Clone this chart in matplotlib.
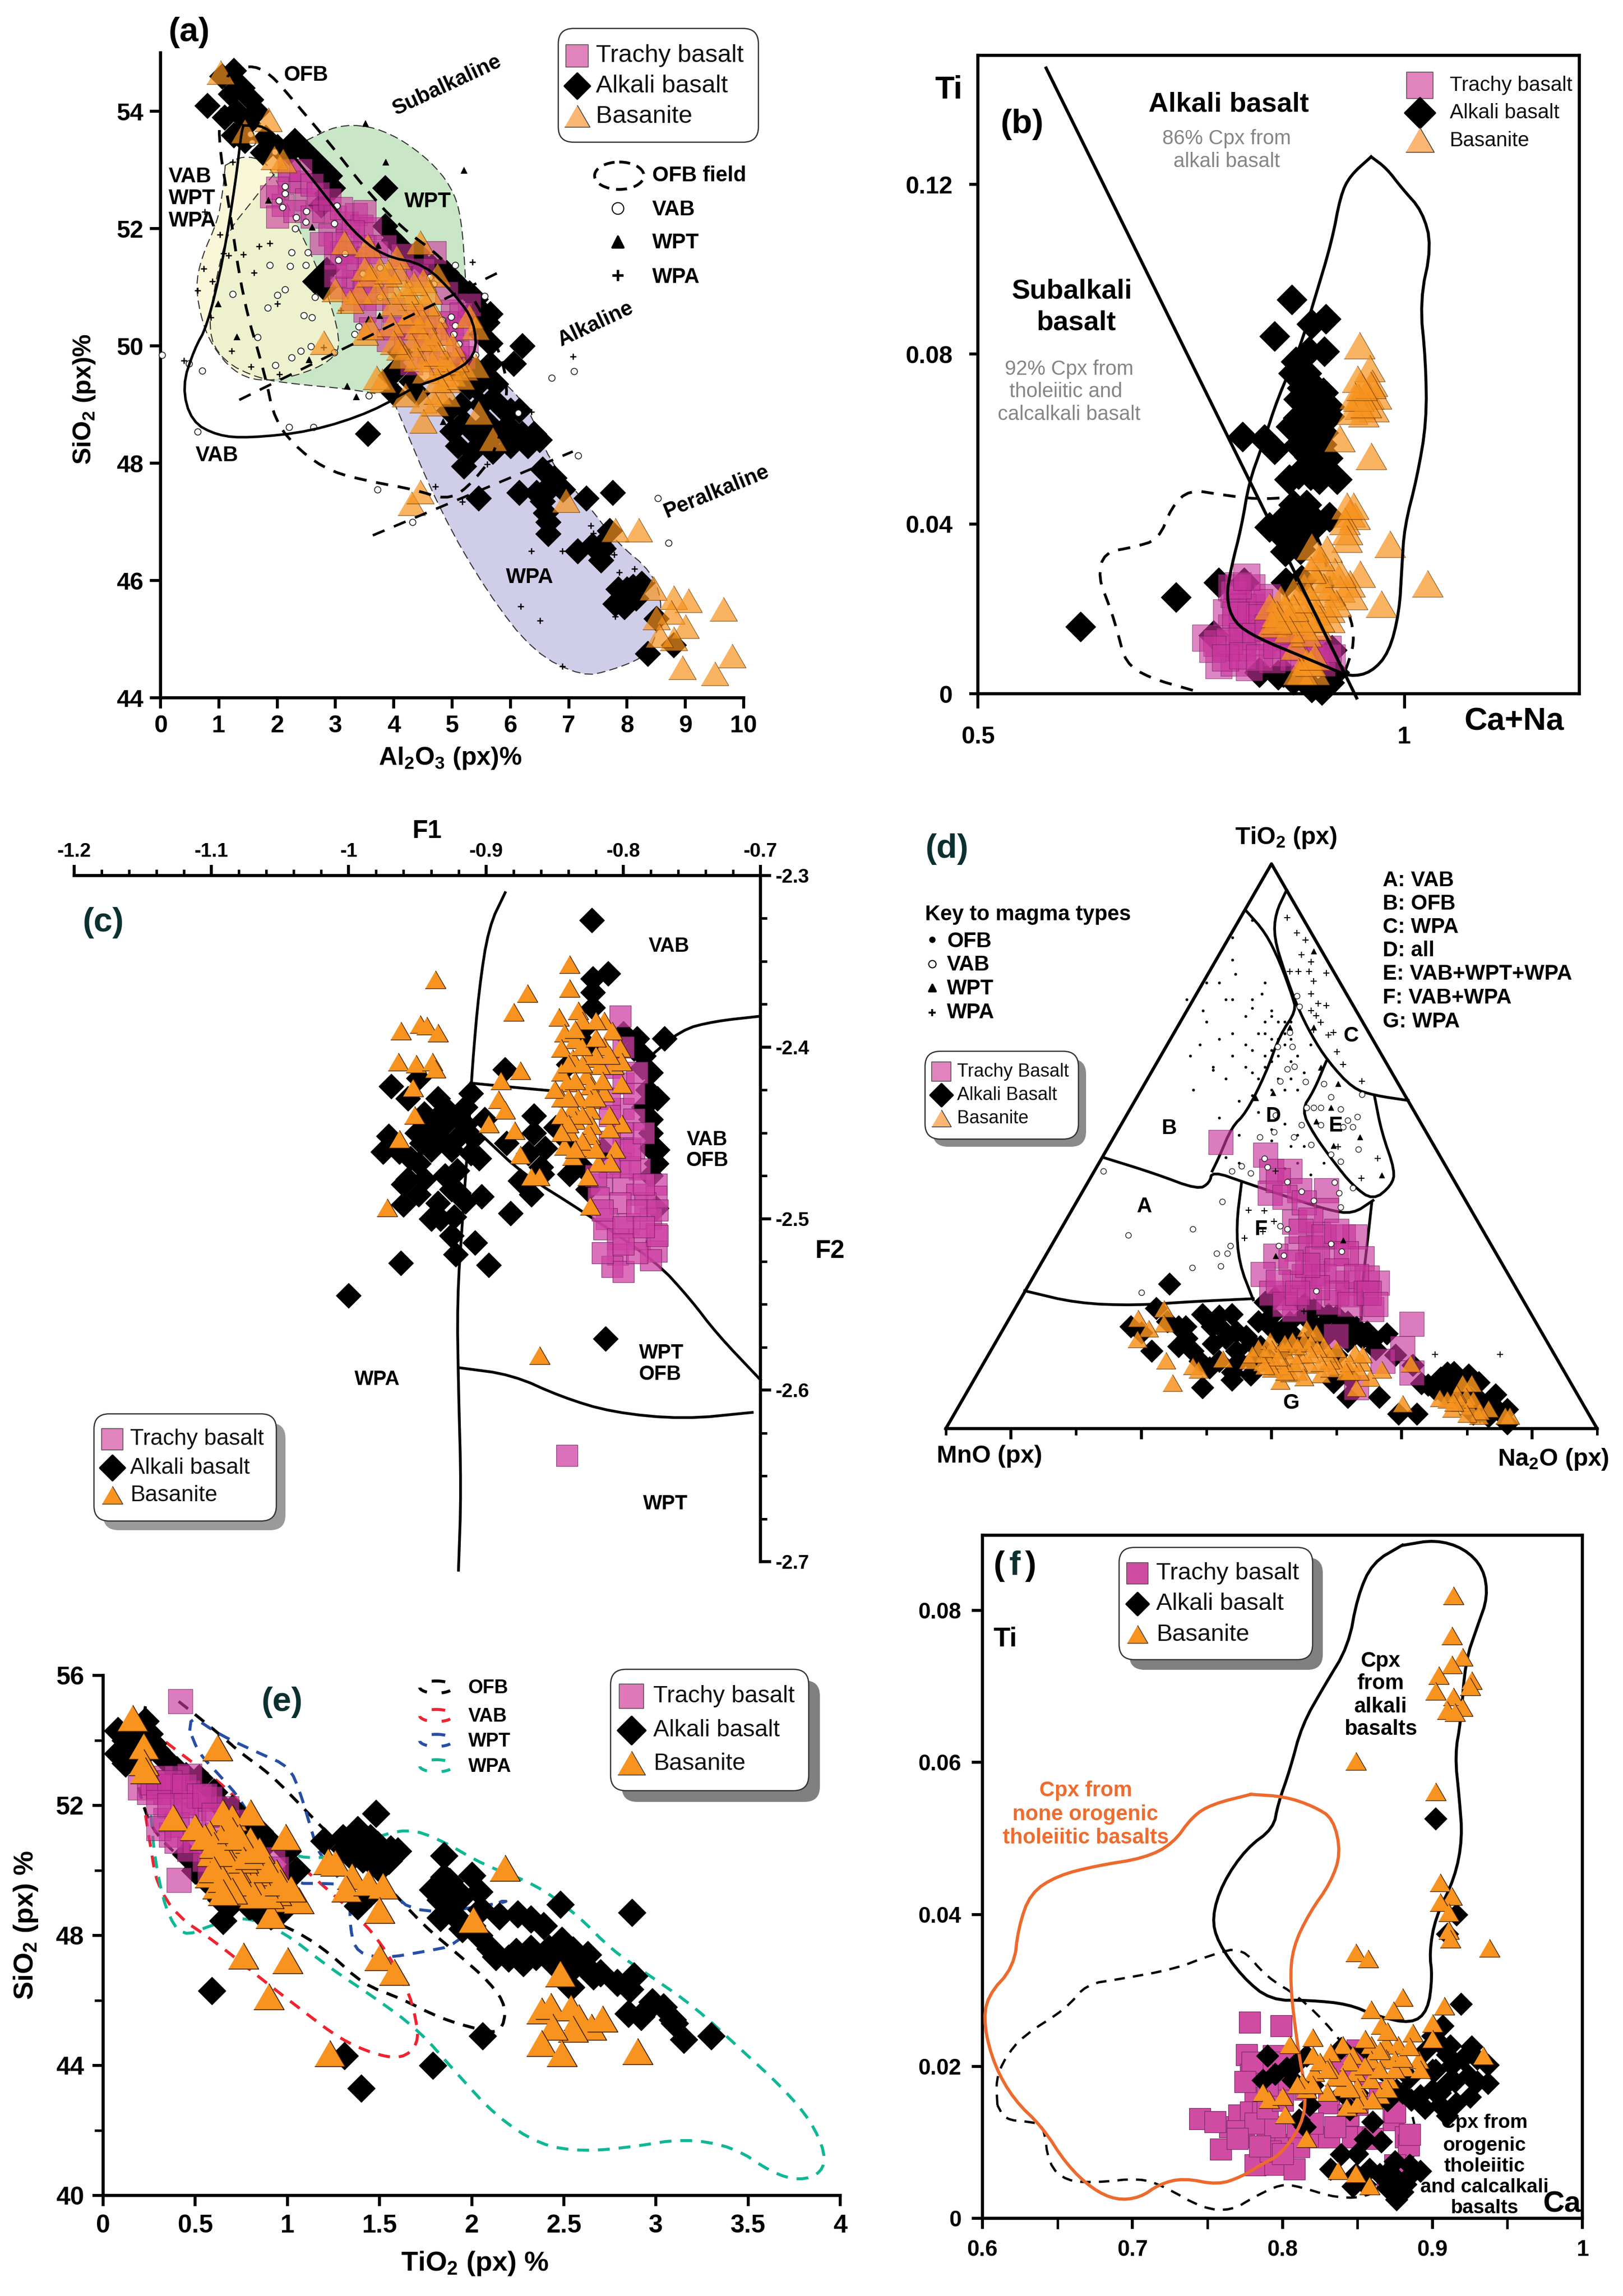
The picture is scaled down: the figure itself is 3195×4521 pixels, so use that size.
import numpy as np
import matplotlib
matplotlib.use('Agg')
import matplotlib.pyplot as plt
from matplotlib.patches import FancyBboxPatch, Ellipse

plt.rcParams['font.family'] = ['Liberation Sans', 'DejaVu Sans']
plt.rcParams['font.weight'] = 'bold'
plt.rcParams['mathtext.fontset'] = 'custom'
plt.rcParams['mathtext.rm'] = 'Liberation Sans:bold'
plt.rcParams['mathtext.default'] = 'rm'

W, H = 3195, 4521

# ---- panel a: Al2O3 vs SiO2
a_alkali = [(.8,54.1),(1.05,54.6),(1.25,54.7),(1.4,54.4),(1.1,53.9),(1.3,54.0),(1.25,53.6),(1.65,54.0),(1.5,53.8),(1.8,53.55),
    (2.0,53.4),(2.2,53.3),(2.5,53.3),(2.7,53.1),(2.75,52.9),(2.85,52.6),(2.75,52.4),(3.85,52.7),(3.85,52.05),(4.0,51.8),(4.3,51.5),
    (2.75,51.2),(2.8,51.0),(4.5,51.4),(4.8,51.3),(5.0,51.15),(5.3,50.9),(5.5,50.6),(5.6,50.4),(5.5,50.2),(5.65,50.05),(6.2,50.0),
    (6.05,49.7),(5.65,49.7),(5.75,49.35),(5.5,49.0),(5.9,48.9),(6.15,48.9),(5.0,48.55),(5.2,48.7),(5.1,48.3),(5.5,48.4),(5.7,48.2),
    (6.0,48.3),(6.4,48.5),(6.5,48.4),(3.55,48.5),(5.2,47.95),(5.45,47.4),(6.15,47.5),(6.55,47.9),(6.7,47.65),(6.55,47.35),(6.9,47.55),
    (6.6,47.15),(6.65,46.8),(7.3,47.4),(7.75,47.5),(7.15,46.5),(7.6,46.55),(7.7,46.85),(7.55,46.35),(8.0,45.85),(8.1,45.9),(8.25,45.95),
    (7.8,45.6),(7.95,45.55),(8.5,45.35),(8.8,44.9),(8.35,44.75),(4.05,49.6),(4.0,49.2),(4.3,49.4),(5.2,49.7),(5.4,49.3),(6.0,48.6)]
a_alkali += [(1.55,54.2),(1.2,54.3),(1.45,53.5),(1.75,53.3),(2.3,53.5),(2.6,53.2),(2.9,52.9),(2.95,52.7),(2.65,51.1),(2.85,51.3),(4.1,51.7),
    (4.4,51.6),(4.65,51.35),(4.9,51.25),(5.15,51.0),(5.4,50.8),(5.45,50.45),(5.3,50.55),(5.65,50.55),(5.2,49.5),(5.4,49.6),(5.55,49.5),(5.7,49.1),
    (5.3,49.3),(5.15,49.0),(4.95,48.9),(5.3,48.6),(5.6,48.7),(5.75,48.5),(6.0,48.9),(6.2,48.5),(5.85,48.55),(6.3,48.3),(5.35,48.2),(4.1,49.9),
    (3.95,49.5),(4.4,49.2),(6.75,47.75),(6.45,47.5),(6.6,47.5),(6.65,47.0),(7.4,46.6),(7.55,46.6),(8.15,45.7),(7.85,45.85)]
a_trachy = [(1.9,52.55),(2.1,52.4),(2.0,52.2),(2.2,52.8),(2.4,52.8),(2.5,52.5),(2.3,52.3),(2.6,52.2),(2.8,52.3),(3.0,52.2),(2.9,51.9),
    (3.2,52.1),(3.35,52.25),(3.45,52.05),(3.6,52.0),(3.2,51.8),(3.5,51.7),(3.1,51.6),(3.4,51.4),(3.7,51.6),(3.3,51.1),(3.1,51.0),
    (3.7,50.8),(4.0,50.6),(3.5,50.6),(4.3,50.3),(4.5,50.5),(5.2,50.4),(5.0,50.6),(5.3,50.7),(5.0,50.2),(4.6,49.9),(4.3,49.7),(2.2,53.0),
    (2.4,53.0),(4.9,50.9),(2.0,52.7),(2.6,52.75),(3.0,51.5),(3.6,50.3),(4.1,51.3),(4.7,51.6),(5.25,50.0),(5.2,49.8),(3.9,50.1)]
a_trachy += [(2.7,52.6),(2.9,52.5),(3.1,52.35),(3.5,52.3),(3.3,51.95),(3.0,51.75),(2.75,51.75),(3.25,51.6),(3.55,51.5),(3.85,51.7),(3.0,51.2),
    (3.2,51.35),(3.5,51.1),(3.8,51.1),(3.3,50.8),(3.5,50.95),(4.0,50.3),(4.2,50.15),(4.4,50.5),(4.55,50.1),(4.7,50.3),(4.9,50.4),(5.1,50.3),
    (5.15,50.55),(4.8,49.7),(5.1,49.9),(4.4,51.2),(4.5,51.3),(4.15,51.55)]
a_basanite = [(1.03,54.65),(1.45,53.65),(1.85,53.85),(1.95,53.2),(2.1,53.15),(3.15,51.75),(3.55,51.7),(4.05,51.5),(4.45,51.75),(4.75,51.2),
    (3.0,50.95),(3.4,50.9),(3.6,51.2),(3.75,51.3),(3.95,51.0),(4.1,51.2),(4.3,50.8),(4.5,51.1),(4.6,50.9),(3.5,51.3),(4.0,50.7),(4.2,50.4),
    (4.4,50.3),(4.5,50.1),(4.7,50.5),(4.8,50.2),(5.0,50.0),(4.3,50.0),(4.1,49.95),(4.6,49.8),(4.8,49.6),(5.0,49.5),(5.2,49.6),(5.4,49.65),
    (3.5,50.2),(3.6,50.3),(2.8,50.05),(3.7,49.45),(3.8,49.4),(4.2,49.15),(4.5,49.05),(4.75,49.2),(4.9,49.15),(4.5,48.7),(5.45,48.85),(5.7,48.4),
    (4.3,47.3),(4.45,47.5),(6.95,47.35),(7.8,46.85),(8.2,46.85),(8.45,45.85),(8.8,45.7),(9.05,45.65),(8.75,45.45),(8.5,45.35),(9.0,45.2),
    (8.8,45.0),(8.55,45.05),(9.65,45.5),(9.8,44.7),(8.95,44.5),(9.5,44.4),(5.3,50.5),(5.4,50.3)]
a_basanite += [(3.7,50.9),(3.9,51.25),(3.25,50.75),(4.2,50.9),(4.35,51.05),(4.55,50.7),(4.3,50.55),(4.5,50.4),(4.65,50.1),(4.15,49.8),(4.4,49.75),
    (4.55,49.55),(4.75,49.85),(4.9,49.7),(5.05,49.75),(4.9,49.4),(4.75,49.4),(5.15,49.45),(3.95,50.35),(4.0,50.05),(4.7,49.0)]
a_vab = [(.03,49.85),(.49,49.7),(.71,49.58),(.64,48.54),(2.2,48.62),(2.62,48.62),(3.57,49.15),(3.72,47.55),(4.32,47.0),(6.71,49.46),(7.09,49.57),
    (7.16,48.13),(8.53,47.4),(8.71,46.64),(5.05,51.38),(5.56,50.85),(1.24,50.89),(1.87,51.38),(2.22,51.36),(2.49,51.38),(2.25,51.6),(2.53,51.6),
    (2.65,50.83),(2.0,50.87),(2.13,50.96),(1.84,50.65),(2.46,50.52),(2.6,50.49),(1.66,50.15),(1.97,49.67),(2.25,49.8),(2.4,49.92),(2.58,49.99),
    (2.98,49.89),(3.33,50.2),(1.54,53.61),(1.57,53.47),(1.96,53.31),(2.13,52.72),(2.13,52.6),(2.03,52.48),(2.09,52.37),(2.33,52.19),(2.5,52.3),
    (2.49,52.12),(2.31,52.0),(3.02,52.39),(2.98,52.09),(3.16,51.58),(3.05,51.47),(3.47,51.23),(3.76,51.34),(3.76,50.83),(4.25,51.04),(4.62,51.17),
    (4.69,51.06),(4.83,50.44),(4.98,50.5),(5.05,50.35),(5.03,50.2),(5.11,50.04),(5.4,49.85),(6.13,48.86),(3.4,50.33)]
a_wpt = [(3.51,53.8),(3.86,53.14),(5.2,53.0),(.98,50.72),(1.31,50.16),(2.54,49.77),(3.2,49.32),(3.35,49.14),(1.85,52.49),(2.6,52.03),(3.73,51.72),
    (3.75,50.52),(4.89,49.82),(3.56,50.46),(4.84,48.71)]
a_wpa = [(1.24,53.14),(.76,52.29),(1.02,51.9),(1.08,51.58),(1.17,51.54),(1.42,51.56),(1.69,51.7),(1.87,51.75),(.64,50.95),(.74,51.32),(.89,51.1),
    (.86,50.49),(1.22,49.92),(1.55,49.65),(.4,49.75),(1.6,51.25),(2.04,49.52),(2.0,50.72),(3.09,50.61),(2.8,49.98),(5.35,51.43),(7.07,49.82),
    (4.71,47.6),(5.17,47.34),(5.6,47.98),(6.36,46.5),(6.89,46.5),(7.38,46.94),(7.42,46.81),(7.78,46.44),(7.87,46.14),(8.13,46.2),(8.42,45.97),
    (6.18,45.56),(6.51,45.32),(7.8,45.39),(6.89,44.54),(6.36,48.88)]
a_green = [(2.49,53.5),(3.02,53.76),(3.56,53.76),(4.09,53.55),(4.62,53.16),(4.98,52.73),(5.16,52.22),(5.24,51.02),(5.24,50.6),(4.0,49.14),(3.2,49.27),
    (2.31,49.35),(1.69,49.44),(1.07,49.74),(.8,50.25),(.98,51.28),(1.16,51.96),(1.51,52.39),(1.91,52.9)]
a_yellow = [(1.11,53.08),(1.42,53.25),(1.78,53.16),(1.96,52.9),(2.22,52.3),(2.76,51.2),(3.11,50.08),(2.93,49.74),(2.31,49.48),(1.69,49.39),(1.24,49.57),
    (.89,50.0),(.71,50.42),(.6,51.02),(.71,51.53),(.98,52.13),(1.07,52.65)]
a_lilac = [(4.0,49.05),(4.8,47.17),(5.6,45.8),(6.4,44.77),(7.24,44.36),(7.73,44.47),(8.27,44.68),(8.46,44.94),(8.62,45.54),(8.44,46.14),(7.82,46.65),
    (7.29,47.34),(6.67,48.02),(6.31,48.97),(5.69,49.57),(5.24,49.9),(4.8,49.57)]
a_ofb = [(1.16,54.62),(1.51,54.8),(1.87,54.66),(2.31,54.15),(2.93,53.42),(3.47,52.73),(4.09,52.05),(4.8,51.53),(5.24,51.02),(5.6,50.4),(6.0,49.4),
    (5.78,48.2),(5.24,47.55),(4.89,47.38),(4.36,47.55),(3.64,47.68),(2.93,47.85),(2.4,48.2),(1.96,48.71),(1.78,49.56),(1.42,50.76),(1.16,52.48),(.98,53.59),(1.07,54.19),(1.16,54.62)]
a_vab_line = [(1.42,53.76),(1.78,53.76),(2.13,53.42),(2.76,52.65),(3.29,51.96),(3.82,51.53),(4.53,51.4),(5.07,50.85),(5.38,50.42),(5.42,49.82),(4.89,49.48),
    (4.36,49.31),(3.64,48.88),(2.58,48.54),(1.51,48.43),(.98,48.47),(.53,48.71),(.37,49.31),(.58,49.95),(.8,50.34),(1.07,51.45),(1.29,52.82),(1.38,53.59),(1.42,53.76)]
a_div1 = [(1.35,49.08),(5.85,51.28)]
a_div2 = [(3.64,46.77),(7.07,48.2)]

# ---- panel b: Ca+Na vs Ti
b_alkali = [(.868,.0928),(.848,.0842),(.891,.0871),(.908,.0883),(.906,.0806),(.873,.0783),(.888,.0806),(.876,.0747),(.894,.0724),(.876,.0694),(.897,.0688),
    (.912,.0676),(.867,.0629),(.891,.0641),(.912,.0653),(.888,.0605),(.903,.0588),(.81,.0605),(.836,.0599),(.848,.0576),(.888,.0558),(.876,.0517),(.9,.0505),
    (.921,.0505),(.842,.0393),(.858,.041),(.888,.0422),(.912,.0416),(.867,.0381),(.882,.0363),(.782,.0262),(.812,.0262),(.732,.0227),(.62,.0158),(.861,.0262),
    (.879,.0268),(.776,.0138),(.915,.0103),(.83,.005),(.852,.0044),(.87,.0032),(.891,.0014),(.912,.0026),(.903,.0008),(.918,.005),(.858,.005),(.885,.0755),(.9,.0625)]
b_alkali += [(.87,.0755),(.88,.072),(.905,.071),(.885,.068),(.9,.0665),(.875,.065),(.905,.0615),(.88,.0635),(.895,.0575),(.875,.0585),(.91,.0555),(.865,.0505),
    (.89,.0515),(.905,.053),(.85,.0385),(.87,.04),(.875,.0425),(.895,.0395),(.878,.034),(.86,.0335),(.87,.0445),(.885,.0445)]
b_trachy = [(.767,.0132),(.782,.0067),(.8,.0073),(.818,.0062),(.791,.0109),(.809,.0109),(.833,.0121),(.797,.025),(.821,.025),(.803,.0215),(.821,.0203),(.839,.0227),
    (.809,.0168),(.833,.0156),(.851,.0132),(.869,.0109),(.896,.0097),(.903,.0073),(.882,.0085),(.851,.0097),(.815,.0144),(.797,.0156),(.791,.0192),(.78,.012),(.845,.008)]
b_trachy += [(.8,.0235),(.81,.0205),(.83,.0215),(.842,.0185),(.82,.0185),(.83,.018),(.802,.0185),(.81,.0135),(.825,.0135),(.84,.0155),(.855,.0165),(.865,.0135),(.88,.0115),
    (.89,.0095),(.915,.0085),(.91,.0105),(.795,.0125),(.775,.0105),(.79,.0085),(.81,.009),(.83,.0085),(.85,.0115),(.87,.0085),(.805,.0255),(.815,.0275)]
b_basanite = [(.947,.0818),(.959,.0765),(.945,.0739),(.962,.073),(.942,.07),(.958,.07),(.967,.07),(.948,.0676),(.964,.067),(.939,.0664),(.952,.0658),(.924,.0599),
    (.961,.0558),(.932,.044),(.936,.0422),(.942,.0416),(.93,.0404),(.933,.0381),(.932,.0363),(.891,.0345),(.909,.0339),(.983,.0351),(1.027,.0257),(.973,.0209),
    (.948,.028),(.903,.0298),(.918,.0286),(.897,.0268),(.936,.0257),(.924,.0245),(.909,.0233),(.939,.0227),(.882,.025),(.87,.0239),(.855,.0221),(.842,.0203),
    (.861,.0197),(.879,.0209),(.894,.0192),(.912,.0197),(.845,.0162),(.876,.0168),(.897,.0156),(.912,.0174),(.873,.0109),(.885,.0073),(.894,.005),(.876,.005)]
b_basanite += [(.85,.0185),(.865,.0175),(.885,.0175),(.87,.02),(.89,.022),(.905,.025),(.92,.021),(.9,.0175),(.885,.014),(.865,.015),(.85,.017),(.88,.005),(.89,.007),(.895,.0085),
    (.925,.028),(.89,.029),(.9,.032),(.94,.044),(.946,.0695),(.955,.068),(.96,.0725),(.95,.072)]
b_div = [(.58,.1474),(.944,-.001)]
b_field = [(.961,.1265),(.979,.1238),(.997,.1191),(1.021,.1137),(1.032,.1055),(1.018,.0925),(1.025,.0783),(1.026,.0641),(1.015,.0511),(1.0,.0393),(.997,.0298),
    (.994,.0192),(.982,.0097),(.961,.005),(.936,.004),(.912,.0061),(.876,.0091),(.827,.0132),(.8,.0168),(.791,.0227),(.797,.0298),(.809,.0393),(.818,.0499),
    (.833,.0582),(.852,.07),(.876,.0806),(.894,.0925),(.915,.1066),(.925,.1173),(.936,.122),(.961,.1265)]
b_dash = [(.752,.0008),(.7,.0038),(.673,.0073),(.664,.0144),(.655,.0203),(.641,.0274),(.648,.0333),(.682,.0345),(.712,.0363),(.727,.044),(.748,.0481),(.785,.0469),
    (.827,.0458),(.87,.0463),(.903,.0357),(.912,.0262),(.936,.0192),(.942,.012),(.93,.005)]

# ---- panel c: F1 vs F2
c_alkali = [(-.823,-2.326),(-.811,-2.357),(-.822,-2.36),(-.822,-2.368),(-.822,-2.377),(-.77,-2.395),(-.8,-2.392),(-.792,-2.401),(-.786,-2.412),(-.782,-2.425),(-.78,-2.442),
    (-.78,-2.459),(-.776,-2.468),(-.776,-2.494),(-.849,-2.447),(-.839,-2.474),(-.826,-2.483),(-.886,-2.413),(-.911,-2.427),(-.969,-2.423),(-.957,-2.43),(-.949,-2.418),
    (-.929,-2.436),(-.919,-2.442),(-.937,-2.442),(-.945,-2.439),(-.901,-2.442),(-.971,-2.452),(-.975,-2.461),(-.963,-2.461),(-.947,-2.456),(-.933,-2.453),(-.921,-2.453),
    (-.911,-2.462),(-.909,-2.453),(-.885,-2.456),(-.865,-2.45),(-.857,-2.459),(-.869,-2.462),(-.949,-2.468),(-.957,-2.477),(-.945,-2.477),(-.921,-2.472),(-.949,-2.486),
    (-.96,-2.492),(-.925,-2.483),(-.935,-2.491),(-.915,-2.49),(-.903,-2.487),(-.933,-2.5),(-.923,-2.499),(-.882,-2.497),(-.867,-2.486),(-.875,-2.478),(-.859,-2.474),
    (-.908,-2.514),(-.922,-2.521),(-.898,-2.527),(-.962,-2.526),(-1.0,-2.545),(-.813,-2.57)]
c_alkali += [(-.79,-2.395),(-.785,-2.405),(-.78,-2.415),(-.775,-2.43),(-.785,-2.435),(-.78,-2.45),(-.775,-2.46),(-.78,-2.475),(-.83,-2.39),(-.825,-2.4),(-.84,-2.41),(-.95,-2.45),
    (-.94,-2.46),(-.93,-2.445),(-.925,-2.46),(-.915,-2.445),(-.905,-2.465),(-.955,-2.465),(-.96,-2.48),(-.93,-2.475),(-.92,-2.485),(-.925,-2.51),(-.94,-2.5),(-.865,-2.44),(-.86,-2.47),
    (-.84,-2.455),(-.83,-2.47),(-.815,-2.46),(-.915,-2.435),(-.935,-2.43),(-.945,-2.45)]
c_trachy = [(-.802,-2.382),(-.841,-2.638),(-.8,-2.436),(-.792,-2.442),(-.8,-2.45),(-.8,-2.459),(-.792,-2.459),(-.802,-2.468),(-.788,-2.471),(-.816,-2.48),(-.8,-2.48),
    (-.776,-2.48),(-.79,-2.486),(-.776,-2.487),(-.818,-2.488),(-.802,-2.491),(-.784,-2.491),(-.812,-2.5),(-.796,-2.503),(-.78,-2.5),(-.814,-2.506),(-.776,-2.509),
    (-.804,-2.512),(-.788,-2.512),(-.804,-2.521),(-.776,-2.519),(-.78,-2.524),(-.808,-2.528),(-.8,-2.531),(-.808,-2.412),(-.8,-2.421),(-.81,-2.43),(-.792,-2.427)]
c_trachy += [(-.8,-2.4),(-.79,-2.415),(-.81,-2.44),(-.795,-2.47),(-.81,-2.47),(-.785,-2.48),(-.815,-2.495),(-.79,-2.495),(-.8,-2.505),(-.775,-2.495),(-.79,-2.52),(-.815,-2.52),(-.8,-2.515),
    (-.775,-2.51),(-.795,-2.46),(-.785,-2.45),(-.81,-2.455),(-.82,-2.475),(-.785,-2.505)]
c_basanite = [(-.937,-2.361),(-.839,-2.352),(-.839,-2.366),(-.87,-2.369),(-.88,-2.38),(-.962,-2.391),(-.948,-2.387),(-.943,-2.388),(-.935,-2.392),(-.964,-2.409),(-.951,-2.41),
    (-.939,-2.409),(-.937,-2.413),(-.953,-2.424),(-.952,-2.44),(-.963,-2.454),(-.875,-2.414),(-.889,-2.42),(-.891,-2.431),(-.886,-2.437),(-.898,-2.445),(-.879,-2.449),
    (-.875,-2.463),(-.867,-2.476),(-.861,-2.476),(-.972,-2.494),(-.861,-2.58),(-.833,-2.379),(-.847,-2.383),(-.814,-2.385),(-.808,-2.391),(-.843,-2.392),(-.835,-2.396),
    (-.814,-2.4),(-.802,-2.401),(-.845,-2.401),(-.825,-2.407),(-.837,-2.407),(-.807,-2.411),(-.801,-2.409),(-.845,-2.415),(-.827,-2.417),(-.817,-2.411),(-.801,-2.422),
    (-.841,-2.421),(-.824,-2.423),(-.814,-2.427),(-.845,-2.43),(-.833,-2.43),(-.824,-2.431),(-.837,-2.436),(-.845,-2.44),(-.824,-2.437),(-.835,-2.443),(-.823,-2.446),
    (-.801,-2.445),(-.81,-2.448),(-.839,-2.45),(-.824,-2.452),(-.843,-2.458),(-.829,-2.459),(-.806,-2.46),(-.837,-2.464),(-.818,-2.468),(-.809,-2.468),(-.826,-2.476),(-.824,-2.493)]
c_basanite += [(-.84,-2.41),(-.83,-2.41),(-.82,-2.405),(-.81,-2.405),(-.815,-2.42),(-.835,-2.42),(-.85,-2.425),(-.84,-2.43),(-.83,-2.44),(-.82,-2.43),(-.81,-2.44),(-.84,-2.445),(-.83,-2.455),
    (-.82,-2.46),(-.835,-2.46),(-.845,-2.45),(-.83,-2.4),(-.82,-2.395),(-.83,-2.385),(-.835,-2.39),(-.82,-2.385)]
c_line1 = [(-.886,-2.31),(-.898,-2.33),(-.905,-2.366),(-.91,-2.412),(-.912,-2.442),(-.917,-2.5),(-.921,-2.547),(-.92,-2.6),(-.918,-2.658),(-.92,-2.705)]
c_line2 = [(-.911,-2.421),(-.873,-2.424),(-.845,-2.426)]
c_line3 = [(-.901,-2.453),(-.873,-2.474),(-.829,-2.496),(-.776,-2.525),(-.751,-2.547),(-.732,-2.567),(-.7,-2.594)]
c_line4 = [(-.784,-2.408),(-.758,-2.39),(-.734,-2.385),(-.7,-2.382)]
c_line5 = [(-.919,-2.587),(-.881,-2.591),(-.845,-2.604),(-.808,-2.613),(-.756,-2.617),(-.706,-2.613)]

# ---- panel d: ternary, values are projected position on the triangle (base 0-1, height 0-1)
d_alkali = [(.343,.256),(.323,.213),(.284,.181),(.316,.138),(.357,.181),(.394,.202),(.368,.181),(.409,.181),(.439,.202),(.424,.176),(.357,.146),(.379,.138),(.394,.073),(.405,.108),
    (.439,.086),(.446,.172),(.461,.164),(.446,.138),(.468,.095),(.49,.224),(.505,.232),(.498,.181),(.528,.189),(.565,.211),(.561,.189),(.587,.202),(.617,.189),(.647,.172),(.677,.168),
    (.654,.155),(.617,.155),(.595,.082),(.617,.056),(.665,.056),(.695,.026),(.723,.026),(.717,.112),(.74,.077),(.77,.099),(.792,.082),(.803,.095),(.818,.082),(.844,.06),(.862,.034),
    (.833,.022),(.81,.026),(.788,.052),(.751,.069),(.766,.06),(.862,.009),(.483,.146),(.528,.163),(.543,.146)]
d_alkali += [(.41,.15),(.42,.2),(.43,.16),(.45,.12),(.47,.15),(.48,.19),(.5,.2),(.51,.17),(.53,.17),(.55,.2),(.575,.18),(.6,.175),(.63,.18),(.66,.14),(.64,.16),(.6,.13),(.52,.14),(.49,.13),(.47,.12),
    (.44,.1),(.42,.12),(.39,.12),(.37,.16),(.34,.19),(.3,.17),(.56,.16),(.58,.16),(.62,.09),(.69,.13),(.73,.08),(.76,.08),(.78,.07),(.8,.06),(.82,.05),(.84,.04),(.85,.03),(.82,.03),(.8,.04),(.78,.1),(.76,.09),(.6,.2),(.55,.22)]
d_trachy = [(.422,.507),(.491,.485),(.5,.456),(.528,.456),(.498,.417),(.543,.422),(.584,.422),(.584,.387),(.535,.366),(.572,.344),(.61,.34),(.628,.34),(.539,.318),(.506,.306),(.487,.273),
    (.599,.31),(.639,.301),(.662,.258),(.535,.258),(.565,.275),(.617,.258),(.647,.267),(.535,.211),(.654,.211),(.617,.237),(.587,.224),(.715,.185),(.701,.142),(.671,.12),(.715,.099),
    (.63,.073),(.599,.164),(.558,.232),(.521,.232)]
d_trachy += [(.51,.44),(.52,.41),(.55,.4),(.56,.37),(.545,.35),(.56,.32),(.58,.34),(.6,.35),(.615,.31),(.57,.3),(.55,.27),(.58,.27),(.6,.28),(.63,.27),(.645,.24),(.6,.24),(.57,.25),(.62,.22),(.65,.24),(.66,.22),(.555,.29),(.53,.295),(.5,.24),(.51,.26),(.52,.22),(.54,.24)]
d_basanite = [(.295,.194),(.335,.211),(.335,.185),(.311,.176),(.294,.157),(.338,.12),(.348,.08),(.379,.11),(.388,.103),(.425,.122),(.465,.12),(.48,.142),(.498,.155),(.517,.138),(.532,.155),
    (.554,.176),(.569,.168),(.55,.155),(.58,.146),(.487,.116),(.509,.108),(.528,.12),(.543,.129),(.558,.112),(.587,.133),(.61,.12),(.628,.133),(.639,.116),(.513,.084),(.528,.097),(.576,.095),
    (.651,.089),(.669,.103),(.63,.071),(.714,.114),(.701,.043),(.758,.053),(.793,.079),(.807,.079),(.799,.056),(.777,.034),(.803,.039),(.833,.034),(.818,.022),(.859,.022),(.866,.022),
    (.5,.12),(.52,.11),(.54,.1),(.6,.11),(.62,.1)]
d_basanite += [(.47,.13),(.49,.13),(.5,.14),(.52,.15),(.54,.145),(.56,.15),(.57,.14),(.59,.12),(.6,.14),(.62,.115),(.64,.13),(.5,.105),(.52,.1),(.54,.115),(.56,.13),(.575,.115),(.59,.105),(.615,.1),(.635,.1),(.55,.09),(.51,.125),(.49,.11),
    (.77,.05),(.785,.06),(.79,.045),(.81,.05),(.82,.03),(.8,.025),(.78,.045)]
d_ofb = [(.47,.9),(.44,.87),(.44,.83),(.42,.79),(.445,.805),(.4,.79),(.43,.76),(.44,.76),(.47,.76),(.49,.79),(.485,.77),(.47,.745),(.46,.73),(.5,.74),(.49,.72),(.5,.73),(.52,.72),(.51,.69),(.5,.69),
    (.53,.69),(.49,.66),(.47,.67),(.42,.69),(.39,.68),(.41,.64),(.375,.66),(.38,.6),(.41,.635),(.45,.58),(.42,.55),(.48,.56),(.5,.6),(.52,.6),(.5,.53),(.52,.54),(.43,.48),(.45,.52),(.53,.5),(.5,.51),
    (.48,.62),(.46,.64),(.44,.66),(.51,.62),(.55,.5),(.54,.52),(.49,.7),(.51,.66),(.53,.65),(.56,.68),(.47,.59),(.43,.62),(.4,.72),(.37,.76),(.395,.74),
    (.51,.72),(.52,.7),(.53,.72),(.5,.67),(.52,.68),(.54,.66),(.49,.64),(.5,.65),(.53,.62),(.55,.63),(.54,.6),(.48,.7),(.46,.68),(.44,.7),(.47,.63),(.45,.47),(.49,.48),(.52,.46),(.56,.45),(.58,.47),(.54,.47)]
d_vab = [(.242,.456),(.424,.402),(.28,.343),(.379,.353),(.437,.324),(.432,.31),(.416,.31),(.422,.288),(.378,.285),(.3,.241),(.539,.766),(.543,.747),(.528,.701),(.532,.676),(.509,.676),(.524,.637),
    (.535,.641),(.513,.615),(.552,.614),(.58,.611),(.591,.587),(.554,.568),(.565,.568),(.576,.568),(.606,.566),(.617,.546),(.632,.552),(.61,.534),(.625,.534),(.576,.538),(.546,.538),(.506,.555),
    (.504,.525),(.482,.516),(.534,.516),(.561,.503),(.591,.486),(.606,.473),(.633,.495),(.639,.592),(.625,.426),(.468,.452),(.454,.465),(.439,.456),(.489,.478),(.494,.463),(.524,.437),(.546,.42),
    (.565,.404),(.597,.436),(.604,.417),(.606,.392),(.524,.353),(.513,.359),(.511,.324),(.519,.307),(.591,.327),(.608,.314),(.569,.244)]
d_wpt = [(.565,.845),(.528,.71),(.502,.594),(.476,.585),(.576,.639),(.602,.611),(.591,.568),(.569,.544),(.636,.516),(.595,.501),(.669,.449),(.61,.334),(.506,.306),(.565,.71)]
d_wpa = [(.524,.905),(.539,.878),(.552,.865),(.546,.839),(.561,.826),(.528,.809),(.541,.809),(.558,.809),(.584,.807),(.565,.792),(.561,.77),(.572,.753),(.584,.749),(.561,.74),(.569,.731),(.576,.719),
    (.565,.706),(.587,.697),(.595,.701),(.601,.667),(.61,.645),(.639,.615),(.465,.387),(.489,.386),(.504,.367),(.459,.337),(.487,.349),(.663,.478),(.638,.443),(.751,.131),(.851,.131),(.55,.208),(.506,.456),(.602,.499)]
d_line_ab = [(.242,.48),(.32,.452),(.387,.423),(.405,.435),(.409,.456),(.461,.435),(.528,.409),(.587,.387),(.625,.38),(.656,.404)]
d_line_b = [(.461,.917),(.491,.878),(.513,.826),(.532,.766),(.538,.74),(.513,.697),(.491,.628),(.461,.559),(.439,.534),(.42,.482),(.409,.456)]
d_line_c = [(.523,.953),(.506,.912),(.504,.869),(.52,.809),(.539,.749),(.561,.697),(.587,.65),(.625,.602),(.658,.59),(.71,.581)]
d_line_e = [(.584,.65),(.565,.598),(.546,.564),(.565,.521),(.595,.473),(.625,.43),(.656,.404),(.684,.43),(.69,.456),(.669,.525),(.658,.59)]
d_line_f1 = [(.454,.435),(.446,.361),(.45,.293),(.472,.228)]
d_line_f2 = [(.654,.4),(.647,.327),(.639,.25),(.638,.194)]
d_line_g = [(.121,.244),(.201,.222),(.29,.218),(.379,.225),(.472,.23)]
d_side_ticks = [.1, .3, .5, .7, .9]
d_minor_ticks = [0, .2, .4, .6, .8, 1]

# ---- panel e: TiO2 vs SiO2
e_alkali = [(.08,54.3),(.16,54.1),(.23,54.6),(.08,53.6),(.19,53.7),(.29,53.7),(.19,53.4),(.34,53.4),(.52,52.85),(.62,52.1),(.65,48.45),(.59,46.3),(1.31,44.3),(1.4,43.3),(1.79,44.0),(2.06,44.9),
    (1.48,51.75),(1.38,51.25),(1.2,50.9),(1.31,50.65),(1.4,50.8),(1.49,50.8),(1.56,50.65),(1.41,50.35),(1.5,50.05),(1.38,48.9),(1.85,50.45),(2.0,49.85),(1.88,49.65),(1.79,49.4),(2.04,49.35),
    (1.83,49.1),(1.83,48.55),(1.92,48.55),(2.04,48.0),(2.15,48.6),(2.25,48.65),(2.32,48.5),(2.39,48.3),(2.48,48.95),(2.87,48.7),(2.13,47.35),(2.24,47.5),(2.32,47.6),(2.28,47.15),(2.49,47.85),
    (2.46,47.3),(2.63,47.4),(2.55,47.0),(2.66,46.75),(2.79,46.55),(2.88,46.75),(2.86,46.35),(2.85,45.6),(2.98,45.95),(3.04,45.8),(3.09,45.4),(3.15,44.8),(3.3,44.9),(2.54,46.4),(.58,49.6),(.64,49.1),
    (.79,48.9),(.91,48.6),(.97,48.75),(1.0,49.8),(.7,51.7),(.9,50.9),(1.0,50.6)]
e_alkali += [(.12,54.0),(.25,54.2),(.27,53.9),(.12,53.3),(.4,53.1),(.45,52.9),(.6,52.4),(.7,51.9),(.8,51.4),(.85,51.2),(.45,50.5),(.5,50.0),(.55,49.75),(.7,49.0),(.8,48.9),(.85,48.7),(1.0,49.2),(1.05,50.0),
    (1.45,50.3),(1.55,50.3),(1.35,50.4),(1.3,51.0),(1.45,51.0),(1.6,50.6),(1.85,49.8),(1.95,49.2),(1.9,49.0),(2.05,48.8),(2.1,47.6),(2.2,47.3),(2.35,47.35),(2.42,47.6),(2.55,47.55),(2.62,47.05),(2.7,46.85),
    (2.45,47.1),(2.95,45.7),(3.1,45.3),(2.92,45.5),(1.45,49.3),(2.0,48.3),(1.95,48.2)]
e_trachy = [(.42,55.2),(.41,49.7),(.2,52.55),(.25,52.4),(.31,52.85),(.4,52.85),(.47,52.9),(.34,52.4),(.46,52.4),(.55,51.9),(.67,51.9),(.34,51.55),(.49,51.7),(.37,51.1),(.47,50.65),(.55,50.35),
    (.58,50.05),(.92,50.35),(.94,50.05),(.62,51.1),(.27,52.7),(.38,52.6),(.58,52.2),(.43,52.1),(.4,51.4)]
e_trachy += [(.3,52.6),(.36,52.7),(.44,52.6),(.52,52.3),(.3,52.1),(.36,52.0),(.45,52.0),(.55,52.3),(.6,51.7),(.7,51.5),(.3,51.3),(.4,50.9),(.5,50.9),(.6,50.6),(.65,50.3),(.7,50.2)]
e_basanite = [(.16,54.65),(.22,53.8),(.22,53.3),(.23,53.05),(.62,53.75),(.38,51.6),(.5,51.3),(.65,51.75),(.7,51.6),(.8,51.75),(.58,51.1),(.64,50.95),(.59,50.5),(.74,50.65),(.68,50.35),(.85,50.2),
    (.77,49.75),(.58,49.85),(.68,49.55),(.82,49.6),(.91,49.7),(.94,49.9),(.99,51.0),(1.0,49.1),(1.06,49.05),(.91,48.6),(.76,47.35),(1.0,47.2),(.9,46.1),(1.23,44.35),(1.22,50.25),(1.26,50.2),(1.35,49.8),
    (1.32,49.4),(1.44,49.6),(1.52,49.5),(1.5,48.75),(1.5,47.3),(1.58,46.85),(2.01,48.45),(2.18,50.05),(2.48,46.8),(2.38,45.65),(2.43,45.8),(2.54,45.75),(2.58,45.45),(2.65,45.15),(2.71,45.4),(2.55,45.1),
    (2.44,45.15),(2.38,44.65),(2.49,44.35),(2.9,44.4),(.62,49.5),(.76,49.3),(.85,49.3),(.94,49.3),(.72,50.0),(.8,50.9)]
e_basanite += [(.55,51.0),(.6,50.75),(.65,50.5),(.7,51.2),(.74,51.0),(.76,50.3),(.8,50.4),(.85,50.6),(.9,50.0),(.6,50.0),(.65,49.7),(.75,49.6),(.82,49.2),(.9,49.2),(.96,49.6),(1.02,49.4),(.7,49.35),(.65,49.3)]
e_ofb = [(.41,55.2),(.51,54.75),(.64,54.15),(.75,53.6),(.91,52.95),(1.09,51.9),(1.2,51.25),(1.35,50.5),(1.53,49.6),(1.74,48.3),(1.92,47.45),(2.1,46.55),(2.19,45.8),(2.16,45.0),(2.04,45.1),(1.83,45.45),
    (1.62,46.05),(1.41,46.5),(1.23,47.45),(1.06,48.1),(.85,48.6),(.64,49.35),(.46,50.2),(.31,50.95),(.23,51.7),(.16,53.3),(.23,55.05)]
e_vab = [(.34,53.95),(.49,53.3),(.67,52.55),(.85,51.4),(1.03,50.35),(1.15,49.75),(1.35,48.75),(1.5,47.85),(1.65,46.4),(1.7,45.4),(1.71,44.65),(1.62,44.2),(1.47,44.35),(1.29,44.8),(1.09,45.65),(.85,46.7),
    (.61,47.8),(.4,48.6),(.29,49.6),(.26,50.65),(.23,51.7)]
e_wpt = [(.47,54.3),(.48,54.75),(.64,54.15),(.85,53.6),(1.01,53.2),(1.07,52.4),(1.13,51.25),(1.17,50.5),(1.34,49.35),(1.34,48.15),(1.38,47.45),(1.53,47.3),(1.74,47.5),(1.92,47.7),(2.13,49.05),(2.22,49.05),
    (1.71,48.6),(1.53,49.5),(1.23,49.6),(1.0,49.6),(.85,50.95),(.76,52.1),(.62,53.0),(.52,53.6),(.47,54.3)]
e_wpa = [(.26,51.7),(.28,50.35),(.34,48.75),(.43,47.95),(.58,48.3),(.76,48.6),(.97,48.15),(1.23,47.0),(1.47,46.1),(1.71,45.1),(1.92,43.75),(2.13,42.45),(2.37,41.55),(2.61,41.35),(2.88,41.5),(3.15,41.75),
    (3.42,41.5),(3.63,40.7),(3.78,40.45),(3.9,40.7),(3.92,41.3),(3.84,42.3),(3.69,43.3),(3.45,44.55),(3.21,45.8),(2.97,46.75),(2.76,47.55),(2.58,48.6),(2.34,49.6),(2.07,50.15),(1.83,50.95),(1.65,51.3),
    (1.44,50.95),(1.23,50.35),(1.0,50.45),(.82,51.25),(.64,52.1)]

# ---- panel f: Ca vs Ti
f_trachy = [(.778,.0258),(.799,.0253),(.776,.0215),(.794,.0214),(.779,.0189),(.789,.0201),(.782,.0159),(.799,.0175),(.745,.0131),(.765,.012),(.771,.0136),(.779,.014),(.787,.014),(.774,.0107),(.759,.0091),
    (.79,.011),(.802,.0097),(.782,.007),(.795,.0071),(.808,.0065),(.792,.0088),(.811,.0094),(.824,.0107),(.831,.0107),(.847,.0107),(.857,.0107),(.874,.013),(.882,.0107),(.884,.0096),(.85,.0221),(.831,.0152),(.844,.0136),(.87,.0055)]
f_trachy += [(.755,.0127),(.77,.0115),(.782,.0125),(.795,.012),(.81,.012),(.79,.0145),(.8,.0155),(.815,.017),(.78,.0205),(.8,.0205),(.77,.0105),(.785,.0095),(.8,.0085),(.82,.0125),(.835,.012),(.85,.015),(.865,.0165),(.875,.014),(.885,.011),
    (.84,.02),(.855,.019),(.79,.0175),(.775,.018),(.86,.0105),(.875,.007)]
f_alkali = [(.902,.0526),(.916,.04),(.91,.0374),(.919,.0282),(.907,.0253),(.912,.0227),(.926,.0226),(.937,.0202),(.937,.0178),(.924,.0188),(.913,.0201),(.902,.0195),(.91,.0178),(.9,.0169),(.916,.0152),(.905,.0149),
    (.886,.0156),(.892,.0162),(.876,.0169),(.79,.0214),(.787,.0182),(.803,.0198),(.816,.0214),(.807,.0182),(.818,.0149),(.811,.013),(.839,.0224),(.855,.0224),(.86,.0127),(.855,.0104),(.866,.0101),(.839,.0084),
    (.832,.0065),(.847,.0042),(.858,.0065),(.865,.0058),(.876,.0052),(.886,.0058),(.892,.0062),(.876,.0025),(.876,.0039),(.882,.0045),(.849,.0058),(.845,.0143)]
f_alkali += [(.895,.022),(.905,.023),(.92,.021),(.925,.016),(.93,.018),(.905,.0165),(.915,.018),(.895,.0145),(.9,.0195),(.91,.0135),(.885,.0185),(.88,.0165),(.87,.0155),(.93,.021),(.91,.0215),(.9,.024),(.795,.019),(.81,.0205),
    (.82,.0175),(.815,.012),(.84,.0165),(.85,.0165),(.87,.006),(.88,.0035),(.885,.007),(.855,.0045),(.875,.0075),(.87,.004),(.85,.0085)]
f_basanite = [(.914,.0819),(.913,.0766),(.92,.0738),(.913,.0728),(.904,.0714),(.926,.0707),(.925,.0699),(.902,.0693),(.914,.0686),(.91,.0668),(.92,.0672),(.915,.0665),(.849,.0601),(.902,.0561),(.905,.0441),(.913,.0423),
    (.905,.0415),(.911,.0402),(.911,.0378),(.912,.0367),(.938,.0355),(.849,.0349),(.857,.0341),(.88,.029),(.859,.0274),(.874,.0273),(.908,.0279),(.9,.0256),(.866,.0253),(.887,.0243),(.9,.0235),(.82,.0237),(.805,.0228),
    (.869,.023),(.859,.0227),(.877,.0227),(.84,.0227),(.832,.0217),(.847,.0214),(.859,.0208),(.869,.021),(.875,.0208),(.891,.0208),(.934,.0213),(.82,.0214),(.831,.0198),(.849,.0191),(.881,.0198),(.892,.0195),(.821,.0191),
    (.813,.0178),(.839,.0172),(.85,.0172),(.859,.0182),(.871,.0182),(.787,.0165),(.791,.0156),(.8,.016),(.816,.0169),(.843,.0146),(.853,.0156),(.865,.0162),(.802,.0136),(.816,.0104),(.837,.0062),(.849,.0058),(.858,.0042)]
f_basanite += [(.825,.0205),(.835,.0185),(.845,.0205),(.855,.02),(.865,.0195),(.875,.0195),(.83,.0165),(.84,.0185),(.85,.015),(.86,.0155),(.87,.017),(.88,.021),(.885,.0225),(.87,.0245),(.865,.022),(.855,.0235),(.81,.0175),(.82,.0175),(.83,.0195),(.845,.017)]
f_black = [(.881,.0886),(.902,.0893),(.921,.0882),(.934,.0856),(.937,.0818),(.93,.0779),(.922,.0733),(.919,.0655),(.915,.061),(.918,.0552),(.92,.05),(.915,.0448),(.902,.0396),(.898,.035),(.9,.0318),(.897,.0273),(.886,.0256),
    (.863,.0266),(.844,.0282),(.818,.0287),(.792,.0287),(.773,.0318),(.757,.0363),(.753,.0396),(.76,.0441),(.776,.0487),(.794,.0513),(.797,.0545),(.805,.059),(.813,.0649),(.828,.0701),(.844,.0753),(.85,.0818),(.86,.0863),(.88,.0886)]
f_orange = [(.779,.0558),(.802,.0555),(.821,.0542),(.834,.0526),(.839,.048),(.832,.0441),(.818,.0402),(.807,.0357),(.805,.0311),(.81,.0227),(.816,.0162),(.813,.0123),(.799,.0084),(.786,.0071),(.773,.0055),(.757,.0044),(.734,.0053),
    (.718,.0045),(.705,.0027),(.689,.0024),(.673,.0039),(.656,.0071),(.64,.012),(.621,.0156),(.608,.0201),(.601,.0253),(.603,.0292),(.621,.0331),(.624,.0383),(.632,.0428),(.65,.0451),(.676,.0464),(.708,.0474),(.727,.0493),(.74,.0529),(.753,.0545),(.779,.0558)]
f_dash = [(.61,.0149),(.609,.0182),(.615,.0211),(.627,.024),(.656,.0276),(.669,.0308),(.692,.0315),(.728,.0328),(.753,.0347),(.773,.0357),(.789,.0318),(.811,.0292),(.834,.0247),(.85,.0201),(.873,.0175),(.887,.0143),(.889,.0097),(.886,.0071),
    (.86,.0029),(.837,.0026),(.811,.0042),(.799,.0045),(.782,.0029),(.766,.001),(.747,.0013),(.721,.0042),(.705,.0053),(.676,.0047),(.656,.0049),(.644,.0071),(.641,.0123),(.631,.0127),(.615,.013),(.61,.0149)]

TRI = [(-1, -.8), (1, -.8), (0, .93)]
DASH = (0, (4.5, 3.5))
SQ_COL = '#c9369c'
OR_COL = '#f7931e'
TEAL = '#0c3030'


def smooth(pts, n=2):
    # chaikin corner cutting, only so the field outlines do not look angular
    p = np.array(pts, dtype=float)
    for _ in range(n):
        q = .75 * p[:-1] + .25 * p[1:]
        r = .25 * p[:-1] + .75 * p[1:]
        m = np.empty((2 * len(q), 2))
        m[0::2] = q
        m[1::2] = r
        p = np.vstack([p[0], m, p[-1]])
    return p[:, 0], p[:, 1]


def place(x0, y0, x1, y1):
    ax = fig.add_axes([x0 / W, 1 - y0 / H, (x1 - x0) / W, (y0 - y1) / H])
    ax.patch.set_alpha(0)
    for s in ax.spines.values():
        s.set_linewidth(1.5)
    ax.tick_params(which='major', width=1.4, length=5)
    ax.tick_params(which='minor', width=1.2, length=3)
    return ax


def dots(ax, pts, marker, s, fc, ec='#222222', lw=.3, alpha=1, z=3):
    p = np.array(pts)
    ax.scatter(p[:, 0], p[:, 1], s=s, marker=marker, facecolor=fc, edgecolor=ec, linewidth=lw, alpha=alpha, zorder=z, clip_on=False)


def curve(ax, pts, color='k', lw=1.4, ls='-', z=5, n=2):
    x, y = smooth(pts, n)
    ax.plot(x, y, color=color, lw=lw, ls=ls, zorder=z, clip_on=False)


def legend_box(x0, y0, x1, y1, shadow=0, shadow_col='#8a8a8a'):
    if shadow:
        ov.add_patch(FancyBboxPatch((x0 + 30 + shadow, y0 + 30 + shadow), x1 - x0 - 60, y1 - y0 - 60,
                                    boxstyle='round,pad=30,rounding_size=30', fc=shadow_col, ec='none', zorder=1))
    ov.add_patch(FancyBboxPatch((x0 + 30, y0 + 30), x1 - x0 - 60, y1 - y0 - 60,
                                boxstyle='round,pad=30,rounding_size=30', fc='white', ec='#333333', lw=.6, zorder=2))


def legend_rows(xm, ys, xt, labels, fs, sq, di, tr, sq_fc='#e183bc', tri_fc='#fbb673'):
    ov.scatter(xm, ys[0], s=sq, marker='s', facecolor=sq_fc, edgecolor='#555555', linewidth=.4, zorder=3)
    ov.scatter(xm, ys[1], s=di, marker='D', facecolor='k', edgecolor='k', zorder=3)
    ov.scatter(xm, ys[2], s=tr, marker=TRI, facecolor=tri_fc, edgecolor='#444444', linewidth=.4, zorder=3)
    for y, lab in zip(ys, labels):
        ov.text(xt, y, lab, fontsize=fs, weight='normal', va='center', ha='left', zorder=3, color='#111111')


def label(x, y, s, fs=10, **kw):
    kw.setdefault('ha', 'center')
    kw.setdefault('va', 'center')
    kw.setdefault('zorder', 4)
    ov.text(x, y, s, fontsize=fs, **kw)


fig = plt.figure(figsize=(W / 300, H / 300), dpi=300, facecolor='white')
ov = fig.add_axes([0, 0, 1, 1], zorder=10)
ov.set_xlim(0, W)
ov.set_ylim(H, 0)
ov.axis('off')
ov.patch.set_alpha(0)

names = ['Trachy basalt', 'Alkali basalt', 'Basanite']

# (a)
ax = place(316, 1374, 1464, 104)
ax.set_xlim(0, 10)
ax.set_ylim(44, 55)
ax.spines['top'].set_visible(False)
ax.spines['right'].set_visible(False)
ax.set_xticks(range(0, 11))
ax.set_yticks(range(44, 55, 2))
ax.tick_params(labelsize=11.5, pad=3)
for pts, col, a in [(a_green, '#c9e6c6', 1), (a_yellow, '#f8f5cf', .8), (a_lilac, '#cfcde8', 1)]:
    x, y = smooth(pts + pts[:1])
    ax.fill(x, y, fc=col, ec='none', alpha=a, zorder=1)
    ax.plot(x, y, color='#333333', lw=.5, ls=(0, (8, 4)), zorder=1.2)
dots(ax, a_alkali, 'D', 72, 'k', ec='k', z=2)
dots(ax, a_trachy, 's', 111, SQ_COL, ec='#6a1a58', alpha=.6, z=3)
dots(ax, a_vab, 'o', 9, 'white', ec='#222222', lw=.4, z=3.5)
dots(ax, a_wpt, '^', 8, 'k', ec='k', z=3.5)
dots(ax, a_wpa, '+', 9, 'k', ec='k', lw=.6, z=3.5)
dots(ax, a_basanite, TRI, 170, OR_COL, ec='#5a2d00', alpha=.7, z=4)
curve(ax, a_ofb, lw=1.3, ls=DASH, z=4.5)
curve(ax, a_vab_line, lw=1.2, z=4.6)
for d in (a_div1, a_div2):
    ax.plot(*zip(*d), color='k', lw=1.2, ls=(0, (5, 4)), zorder=4.5)
label(372, 64, '(a)', 16)
label(602, 148, 'OFB', 10)
label(880, 168, 'Subalkaline', 10, rotation=25)
for y, s in zip([348, 391, 435], ['VAB', 'WPT', 'WPA']):
    label(332, y, s, 10, ha='left')
label(842, 397, 'WPT', 10)
label(1173, 638, 'Alkaline', 10, rotation=25)
label(1410, 969, 'Peralkaline', 10, rotation=22)
label(427, 897, 'VAB', 10)
label(1043, 1137, 'WPA', 10)
label(886, 1493, 'Al$_2$O$_3$ (px)%', 12)
label(166, 786, 'SiO$_2$ (px)%', 12, rotation=90)
legend_box(1099, 56, 1493, 280)
legend_rows(1136, [110, 169, 230], 1173, names, 11.7, 111, 72, 144)
ov.add_patch(Ellipse((1219, 346), 97, 54, fc='none', ec='k', lw=1.3, ls=(0, (4, 2.5))))
ov.scatter(1216, 410, s=30, marker='o', facecolor='white', edgecolor='k', linewidth=.5)
ov.scatter(1216, 476, s=28, marker='^', facecolor='k', edgecolor='k')
ov.scatter(1216, 542, s=30, marker='+', color='k', linewidth=1.2)
for y, s in zip([346, 413, 478, 546], ['OFB field', 'VAB', 'WPT', 'WPA']):
    label(1284, y, s, 10, ha='left')

# (b)
ax = place(1925, 1366, 3109, 109)
ax.set_xlim(.5, 1.205)
ax.set_ylim(0, .1504)
ax.set_xticks([.5, 1])
ax.set_xticklabels(['0.5', '1'])
ax.set_yticks([0, .04, .08, .12])
ax.set_yticklabels(['0', '0.04', '0.08', '0.12'])
ax.tick_params(labelsize=11.5, pad=8)
ax.tick_params(axis='x', length=7)
ax.tick_params(axis='y', length=4)
dots(ax, b_alkali, 'D', 100, 'k', ec='k', z=2)
dots(ax, b_trachy, 's', 150, SQ_COL, ec='#6a1a58', alpha=.6, z=3)
dots(ax, b_basanite, TRI, 214, OR_COL, ec='#5a2d00', alpha=.7, z=4)
ax.plot(*zip(*b_div), color='k', lw=1.5, zorder=5, clip_on=False)
curve(ax, b_field, lw=1.4, z=5)
curve(ax, b_dash, lw=1.3, ls=DASH, z=1.5)
label(1867, 178, 'Ti', 15)
label(2012, 245, '(b)', 16)
label(2419, 206, 'Alkali basalt', 13)
label(2110, 573, 'Subalkali', 13)
label(2119, 636, 'basalt', 13)
for x, y, s in [(2415, 273, '86% Cpx from'), (2415, 318, 'alkali basalt'), (2105, 727, '92% Cpx from'), (2098, 771, 'tholeiitic and'), (2105, 816, 'calcalkali basalt')]:
    label(x, y, s, 9.6, color='#858585', weight='normal')
label(2981, 1421, 'Ca+Na', 15)
legend_rows(2795, [168, 222, 277], 2854, names, 9.7, 150, 100, 180)

# (c)
ax = place(146, 3075, 1497, 1724)
ax.set_xlim(-1.2, -.7)
ax.set_ylim(-2.7, -2.3)
ax.spines['bottom'].set_visible(False)
ax.spines['left'].set_visible(False)
ax.xaxis.tick_top()
ax.yaxis.tick_right()
ax.set_xticks([-1.2, -1.1, -1, -.9, -.8, -.7])
ax.set_xticklabels(['-1.2', '-1.1', '-1', '-0.9', '-0.8', '-0.7'])
ax.set_xticks(np.arange(-1.2, -.699, .02), minor=True)
ax.set_yticks([-2.7, -2.6, -2.5, -2.4, -2.3])
ax.set_yticklabels(['-2.7', '-2.6', '-2.5', '-2.4', '-2.3'])
ax.set_yticks(np.arange(-2.7, -2.299, .025), minor=True)
ax.tick_params(labelsize=9.3, pad=2)
for ln in (c_line1, c_line2, c_line3, c_line4, c_line5):
    curve(ax, ln, lw=1.3, z=1.5)
dots(ax, c_alkali, 'D', 69, 'k', ec='k', z=2)
dots(ax, c_trachy, 's', 98, '#cf42a4', ec='#6a1a58', alpha=.75, z=3)
dots(ax, c_basanite, TRI, 95, OR_COL, ec='#4a2500', lw=.35, z=4)
label(203, 1817, '(c)', 16, color=TEAL)
label(841, 1637, 'F1', 12)
label(1634, 2464, 'F2', 12)
label(1317, 1863, 'VAB', 9.5)
label(1392, 2244, 'VAB', 9.5)
label(1392, 2285, 'OFB', 9.5)
label(1302, 2664, 'WPT', 9.5)
label(1299, 2706, 'OFB', 9.5)
label(743, 2716, 'WPA', 9.5)
label(1310, 2961, 'WPT', 9.5)
legend_box(185, 2784, 544, 2995, shadow=18, shadow_col='#9a9a9a')
legend_rows(221, [2834, 2890, 2945], 256, names, 10.6, 98, 69, 95, tri_fc=OR_COL)

# (d)
ax = place(1862, 2813, 3144, 1701)
ax.set_xlim(0, 1)
ax.set_ylim(0, 1)
for k in ('top', 'left', 'right'):
    ax.spines[k].set_visible(False)
ax.set_yticks([])
ax.set_xticks(d_side_ticks)
ax.set_xticklabels([])
ax.set_xticks(d_minor_ticks, minor=True)
ax.plot([0, .5, 1], [0, 1, 0], color='k', lw=1.5, zorder=1.5, clip_on=False)
for ln in (d_line_ab, d_line_b, d_line_c, d_line_e, d_line_f1, d_line_f2, d_line_g):
    curve(ax, ln, lw=1.3, z=1.6)
dots(ax, d_ofb, 'o', 1.8, 'k', ec='k', lw=0, z=1.7)
dots(ax, d_alkali, 'D', 56, 'k', ec='k', z=2)
dots(ax, d_trachy, 's', 132, SQ_COL, ec='#6a1a58', alpha=.65, z=3)
dots(ax, d_vab, 'o', 7, 'white', ec='#222222', lw=.35, z=3.5)
dots(ax, d_wpt, '^', 6, 'k', ec='k', z=3.5)
dots(ax, d_wpa, '+', 7, 'k', ec='k', lw=.5, z=3.5)
dots(ax, d_basanite, TRI, 85, OR_COL, ec='#5a2d00', alpha=.85, z=4)
label(1864, 1672, '(d)', 16, color=TEAL)
label(2531, 1649, 'TiO$_2$ (px)', 11.5)
label(1948, 2868, 'MnO (px)', 11.5)
label(3058, 2873, 'Na$_2$O (px)', 11.5)
for y, s in zip([1734, 1780, 1826, 1872, 1918, 1965, 2012], ['A: VAB', 'B: OFB', 'C: WPA', 'D: all', 'E: VAB+WPT+WPA', 'F: VAB+WPA', 'G: WPA']):
    label(2722, y, s, 10, ha='left')
label(1821, 1801, 'Key to magma types', 10, ha='left')
for y, s in zip([1854, 1900, 1947, 1994], ['OFB', 'VAB', 'WPT', 'WPA']):
    label(1864, y, s, 10, ha='left')
ov.scatter(1835, 1850, s=4, marker='o', color='k')
ov.scatter(1835, 1898, s=12, marker='o', facecolor='white', edgecolor='k', linewidth=.5)
ov.scatter(1835, 1945, s=10, marker='^', color='k')
ov.scatter(1835, 1994, s=12, marker='+', color='k', linewidth=.9)
for x, y, s in [(2253, 2376, 'A'), (2301, 2222, 'B'), (2659, 2040, 'C'), (2506, 2198, 'D'), (2629, 2217, 'E'), (2482, 2421, 'F'), (2542, 2763, 'G')]:
    label(x, y, s, 10)
legend_box(1821, 2070, 2123, 2243, shadow=15, shadow_col='#8a8a8a')
legend_rows(1853, [2110, 2156, 2203], 1884, ['Trachy Basalt', 'Alkali Basalt', 'Basanite'], 8.7, 85, 56, 85)

# (e)
ax = place(203, 4323, 1654, 3299)
ax.set_xlim(0, 4)
ax.set_ylim(40, 56)
ax.spines['top'].set_visible(False)
ax.spines['right'].set_visible(False)
ax.set_xticks(np.arange(0, 4.1, .5))
ax.set_xticklabels(['0', '0.5', '1', '1.5', '2', '2.5', '3', '3.5', '4'])
ax.set_yticks([40, 44, 48, 52, 56])
ax.set_yticks([42, 46, 50, 54], minor=True)
ax.tick_params(labelsize=12, pad=4)
ax.tick_params(which='minor', length=4)
for pts, col in [(e_ofb, 'k'), (e_vab, '#ee2430'), (e_wpt, '#274ea3'), (e_wpa, '#10b795')]:
    curve(ax, pts, color=col, lw=1.4, ls=(0, (4, 3)), z=1.5)
dots(ax, e_alkali, 'D', 85, 'k', ec='k', z=2)
dots(ax, e_trachy, 's', 137, SQ_COL, ec='#6a1a58', alpha=.65, z=3)
dots(ax, e_basanite, TRI, 205, OR_COL, ec='#3a1e00', lw=.4, z=4)
label(555, 3352, '(e)', 16, color=TEAL)
label(51, 3791, 'SiO$_2$ (px) %', 13, rotation=90)
label(935, 4457, 'TiO$_2$ (px) %', 13)
for y, s, c in zip([3324, 3380, 3429, 3479], ['OFB', 'VAB', 'WPT', 'WPA'], ['k', '#ee2430', '#274ea3', '#10b795']):
    ov.add_patch(Ellipse((859, y - 2), 66, 24, fc='none', ec=c, lw=1.4, ls=(0, (3, 5))))
    label(922, y, s, 9, ha='left')
legend_box(1202, 3287, 1592, 3526, shadow=22, shadow_col='#808080')
legend_rows(1243, [3340, 3407, 3473], 1286, names, 11.2, 137, 85, 170, sq_fc='#df78b8', tri_fc=OR_COL)

# (f)
ax = place(1934, 4368, 3115, 3023)
ax.set_xlim(.6, 1)
ax.set_ylim(0, .0899)
ax.set_xticks([.6, .7, .8, .9, 1])
ax.set_xticklabels(['0.6', '0.7', '0.8', '0.9', '1'])
ax.set_xticks([.65, .75, .85, .95], minor=True)
ax.set_yticks([0, .02, .04, .06, .08])
ax.set_yticklabels(['0', '0.02', '0.04', '0.06', '0.08'])
ax.tick_params(labelsize=10.5, pad=5)
ax.tick_params(which='minor', length=5)
curve(ax, f_black, lw=1.4, z=1.5)
curve(ax, f_dash, lw=1.1, ls=DASH, z=1.5)
dots(ax, f_trachy, 's', 100, '#d04ca2', ec='#7a2a68', z=2)
dots(ax, f_alkali, 'D', 56, 'k', ec='k', z=2.5)
curve(ax, f_orange, color='#ec6a2d', lw=1.5, z=3)
dots(ax, f_basanite, TRI, 95, OR_COL, ec='#4a2500', lw=.35, z=4)
label(1967, 3084, '(', 16)
label(1998, 3084, 'f', 16, color=TEAL)
label(2029, 3084, ')', 16)
label(1979, 3228, 'Ti', 13)
for y, s in zip([3271, 3315, 3361, 3405], ['Cpx', 'from', 'alkali', 'basalts']):
    label(2718, y, s, 10)
for y, s in zip([3526, 3573, 3619], ['Cpx from', 'none orogenic', 'tholeiitic basalts']):
    label(2137, y, s, 10, color='#ee6c2e')
for y, s in zip([4180, 4225, 4266, 4307, 4348], ['Cpx from', 'orogenic', 'tholeiitic', 'and calcalkali', 'basalts']):
    label(2922, y, s, 9.3)
label(3075, 4341, 'Ca', 14)
legend_box(2203, 3047, 2584, 3268, shadow=20, shadow_col='#808080')
legend_rows(2239, [3098, 3158, 3219], 2276, names, 11.3, 100, 56, 95, sq_fc='#d04ca2', tri_fc=OR_COL)

fig.savefig('out.png', dpi=300, facecolor='white')
